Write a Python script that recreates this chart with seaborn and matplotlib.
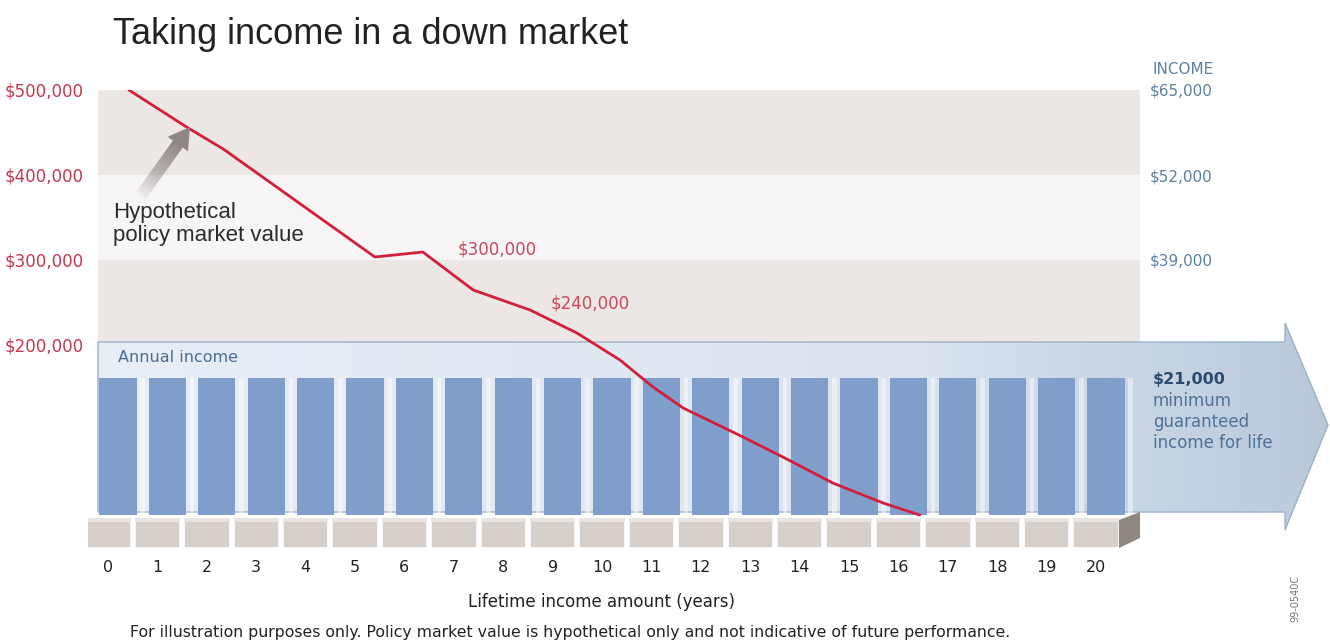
import numpy as np
import matplotlib
matplotlib.use("Agg")
import matplotlib.pyplot as plt
from matplotlib.patches import Polygon
from matplotlib.colors import LinearSegmentedColormap, to_rgb
from matplotlib.transforms import ScaledTranslation
import seaborn as sns

# ---------------- data ----------------
years = list(range(21))
annual_income = [21000] * 21
value_years = [0.22, 1.40, 2.13, 5.20, 6.17, 7.19, 8.34, 9.29, 10.16,
               10.83, 11.44, 12.65, 13.46, 14.47, 15.49, 16.23]
market_value = [500000, 456000, 430600, 303500, 309400, 264700, 241200,
                214100, 182400, 150600, 125900, 91800, 68200, 37600, 14100, 0]
value_ticks = [500000, 400000, 300000, 200000]
value_tick_labels = ["$500,000", "$400,000", "$300,000", "$200,000"]
income_ticks = [65000, 52000, 39000]
income_tick_labels = ["$65,000", "$52,000", "$39,000"]
callout_years = [7.67, 9.55]
callout_values = [311800, 249000]
callout_labels = ["$300,000", "$240,000"]
band_ranges = [(400000, 500000), (300000, 400000), (203500, 300000)]
band_colors = ["#ece7e5", "#f7f5f5", "#ece7e5"]

# ---------------- geometry helpers (pixel -> data) ----------------
W, H = 1330, 642
X0_PX, PX_PER_YEAR = 118, 49.4
Y0_PX, PX_PER_VAL = 515, 85 / 100000
INCOME_PER_VALUE = 65000 / 500000
PERSPECTIVE = -0.2


def dx(px):
    return (px - X0_PX) / PX_PER_YEAR


def dy(py):
    return (Y0_PX - py) / PX_PER_VAL


sns.set_theme(style="white")
plt.rcParams["font.family"] = ["DejaVu Sans"]

fig = plt.figure(figsize=(W / 100, H / 100), dpi=100)

# background axes spanning the whole figure
axbg = fig.add_axes([0, 0, 1, 1])
axbg.set_axis_off()

for (lo, hi), c in zip(band_ranges, band_colors):
    axbg.fill_between([dx(98), dx(1140)], lo, hi, color=c, lw=0, zorder=0)

arrow_pts = [(dx(98), dy(342)), (dx(1285), dy(342)), (dx(1285), dy(323)),
             (dx(1328), dy(425)), (dx(1285), dy(530)), (dx(1285), dy(512)),
             (dx(98), dy(512))]
arrow_poly = Polygon(arrow_pts, closed=True, facecolor="none",
                     edgecolor="#9db0c7", lw=1.0, zorder=2)
axbg.add_patch(arrow_poly)
cmap = LinearSegmentedColormap.from_list(
    "arr", ["#e8eef6", "#e2e9f2", "#dae3ee", "#b9c9dc"])
grad = np.linspace(0, 1, 256).reshape(1, -1)
im = axbg.imshow(grad, extent=[dx(98), dx(1328), dy(530), dy(323)],
                 aspect="auto", cmap=cmap, zorder=1)
im.set_clip_path(arrow_poly)
axbg.set_xlim(dx(0), dx(W))
axbg.set_ylim(dy(H), dy(0))

# main axes (market value)
ax = fig.add_axes([88 / W, 1 - 548 / H, (1140 - 88) / W, (548 - 90) / H])
ax.patch.set_visible(False)
XL = (dx(88), dx(1140))
YL = (dy(548), dy(90))

# income axis with bars
ax2 = ax.twinx()
sns.barplot(x=years, y=annual_income, ax=ax2, native_scale=True,
            color="#7f9ecb", saturation=1, width=0.75, linewidth=0,
            edgecolor="none")
ax2.bar([y + 0.5 for y in years], annual_income, width=0.09,
        color="white", alpha=0.45, lw=0)
ax2.set_ylim(YL[0] * INCOME_PER_VALUE, YL[1] * INCOME_PER_VALUE)
ax2.set_xlabel("")
ax2.set_ylabel("")

# top overlay axes (value units) for platform + line
ax3 = ax.twinx()
ax3.set_axis_off()
plat_x = [y + PERSPECTIVE for y in years]
ax3.bar(plat_x, dy(520) - dy(548), bottom=dy(548), width=0.92,
        color="#d6cfca", edgecolor="white", lw=1.2, zorder=1)
ax3.bar(plat_x, dy(518) - dy(522), bottom=dy(522), width=0.92,
        color="#e9e5e2", lw=0, zorder=1)
side = Polygon([(dx(1119), dy(548)), (dx(1140), dy(538)), (dx(1140), dy(512)),
                (dx(1119), dy(520))], closed=True, facecolor="#8f8782",
               edgecolor="none", zorder=1, clip_on=False)
ax3.add_patch(side)

sns.lineplot(x=value_years, y=market_value, ax=ax3, color="#d21f3a",
             lw=2.0, sort=False, zorder=5)
for xv, yv, lab in zip(callout_years, callout_values, callout_labels):
    ax3.text(xv, yv, lab, ha="center", va="center", fontsize=12,
             color="#c8495c", zorder=6)

ax3.text(dx(113), dy(202), "Hypothetical\npolicy market value",
         ha="left", va="top", fontsize=16, color="#2b2b2b",
         family=["Liberation Sans", "DejaVu Sans"], linespacing=1.1, zorder=6)

# fading gray pointer arrow (pixel-space design -> data)
tail = np.array([140.0, 197.0])
tip = np.array([190.0, 127.0])
u = (tip - tail) / np.linalg.norm(tip - tail)
n = np.array([-u[1], u[0]])
neck = tip - u * 21
ppx = [tail + n * 6, neck + n * 6, neck + n * 12.5, tip,
       neck - n * 12.5, neck - n * 6, tail - n * 6]
gp = Polygon([(dx(p[0]), dy(p[1])) for p in ppx], closed=True,
             facecolor="none", edgecolor="none", zorder=6)
ax3.add_patch(gp)
x0p, x1p, y0p, y1p = 120, 210, 115, 210
N = 120
gx, gy = np.meshgrid(np.linspace(x0p, x1p, N), np.linspace(y0p, y1p, N))
proj = (gx - tail[0]) * u[0] + (gy - tail[1]) * u[1]
L = np.linalg.norm(tip - tail)
alpha = np.clip(proj / (0.75 * L), 0, 1) ** 0.8
rgba = np.zeros((N, N, 4))
rgba[..., :3] = to_rgb("#8f8784")
rgba[..., 3] = alpha
gim = ax3.imshow(rgba, extent=[dx(x0p), dx(x1p), dy(y1p), dy(y0p)],
                 origin="upper", aspect="auto", zorder=6)
gim.set_clip_path(gp)

ax3.text(dx(118), dy(358), "Annual income", ha="left", va="center",
         fontsize=11.5, color="#4a6f95", zorder=6)

# limits
for a in (ax, ax2, ax3):
    a.set_xlim(*XL)
ax.set_ylim(*YL)
ax3.set_ylim(*YL)

# ticks
ax.set_xticks(years)
ax.set_xticklabels([str(y) for y in years])
ax.tick_params(axis="x", length=0, pad=9, labelsize=11.5, labelcolor="#222222")
offset = ScaledTranslation(-0.1, 0, fig.dpi_scale_trans)
for lab in ax.get_xticklabels():
    lab.set_transform(lab.get_transform() + offset)
ax.set_yticks(value_ticks)
ax.set_yticklabels(value_tick_labels)
ax.tick_params(axis="y", length=0, pad=3, labelsize=12, labelcolor="#c4394f")
ax2.set_yticks(income_ticks)
ax2.set_yticklabels(income_tick_labels)
ax2.tick_params(axis="y", length=0, pad=7, labelsize=11, labelcolor="#5d7fa3")
for a in (ax, ax2):
    for s in a.spines.values():
        s.set_visible(False)
    a.grid(False)

# figure texts
fig.text(113 / W, 1 - 35 / H, "Taking income in a down market", ha="left",
         va="center", fontsize=26, color="#222222",
         family=["Liberation Sans", "DejaVu Sans"])
fig.text(1152 / W, 1 - 70 / H, "INCOME", ha="left", va="center",
         fontsize=11, color="#5d7fa3")
fig.text(1153 / W, 1 - 380 / H, "$21,000", ha="left", va="center",
         fontsize=11.5, fontweight="bold", color="#2d4b6e")
for i, t in enumerate(["minimum", "guaranteed", "income for life"]):
    fig.text(1153 / W, 1 - (401 + 21 * i) / H, t, ha="left", va="center",
             fontsize=12, color="#4e7398")
fig.text(601 / W, 1 - 602 / H, "Lifetime income amount (years)",
         ha="center", va="center", fontsize=12, color="#222222")
fig.text(570 / W, 1 - 633 / H,
         "For illustration purposes only. Policy market value is hypothetical "
         "only and not indicative of future performance.",
         ha="center", va="center", fontsize=11.3, color="#222222")
fig.text(1295 / W, 1 - 598 / H, "99-0540C", rotation=90, ha="center",
         va="center", fontsize=7, color="#777777")

fig.savefig("out.png", dpi=100)
